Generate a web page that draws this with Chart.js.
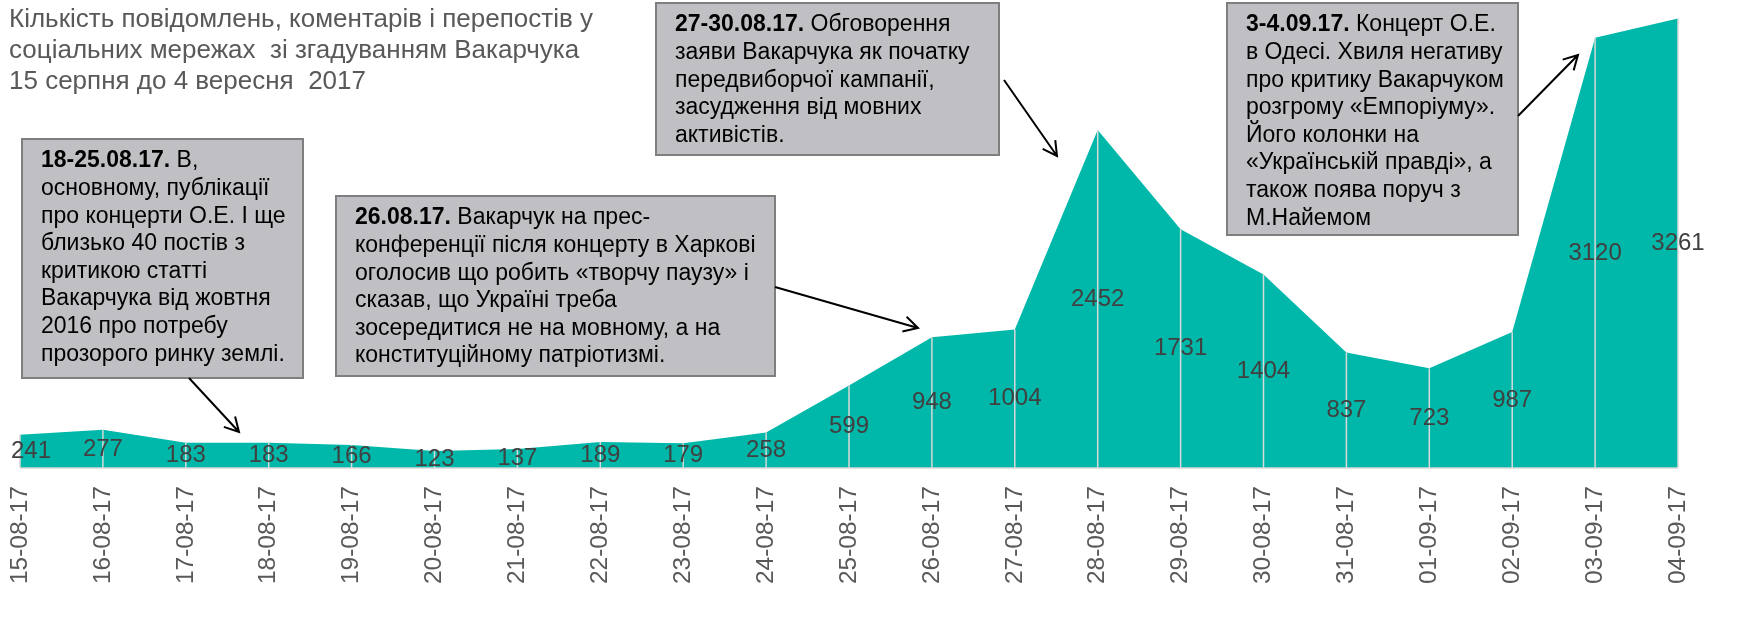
<!DOCTYPE html>
<html>
<head>
<meta charset="utf-8">
<script src="https://cdn.jsdelivr.net/npm/chart.js@4"></script>
<style>
  body { margin: 0; background: #fff; }
  #wrap { width: 1744px; height: 625px; position: relative; }
</style>
</head>
<body>
<div id="wrap"><canvas id="chartMentions"></canvas></div>
<script>
const dates = ["15-08-17", "16-08-17", "17-08-17", "18-08-17", "19-08-17", "20-08-17", "21-08-17",
  "22-08-17", "23-08-17", "24-08-17", "25-08-17", "26-08-17", "27-08-17", "28-08-17", "29-08-17",
  "30-08-17", "31-08-17", "01-09-17", "02-09-17", "03-09-17", "04-09-17"];
const mentions = [241, 277, 183, 183, 166, 123, 137, 189, 179, 258, 599, 948, 1004, 2452, 1731,
  1404, 837, 723, 987, 3120, 3261];

const titleLines = [
  "Кількість повідомлень, коментарів і перепостів у",
  "соціальних мережах  зі згадуванням Вакарчука",
  "15 серпня до 4 вересня  2017"
];

// callout boxes: bold prefix + text lines
const notes = [
  {
    box: [22, 139, 281, 239],
    bold: "18-25.08.17.",
    lines: [" В,", "основному, публікації", "про концерти О.Е. І ще", "близько 40 постів з",
      "критикою статті", "Вакарчука від жовтня", "2016 про потребу", "прозорого ринку землі."],
    arrow: [189, 378, 239, 432]
  },
  {
    box: [336, 196, 439, 180],
    bold: "26.08.17.",
    lines: [" Вакарчук на прес-", "конференції після концерту в Харкові", "оголосив що робить «творчу паузу» і",
      "сказав, що Україні треба", "зосередитися не на мовному, а на", "конституційному патріотизмі."],
    arrow: [775, 287, 918, 328]
  },
  {
    box: [656, 3, 343, 152],
    bold: "27-30.08.17.",
    lines: [" Обговорення", "заяви Вакарчука як початку", "передвиборчої кампанії,",
      "засудження від мовних", "активістів."],
    arrow: [1004, 80, 1057, 156]
  },
  {
    box: [1227, 3, 291, 232],
    bold: "3-4.09.17.",
    lines: [" Концерт О.Е.", "в Одесі. Хвиля негативу", "про критику Вакарчуком", "розгрому «Емпоріуму».",
      "Його колонки на", "«Українській правді», а", "також поява поруч з", "М.Найемом"],
    arrow: [1518, 116, 1578, 55]
  }
];

const FONT = "'Liberation Sans', Arial, sans-serif";

const extras = {
  id: "extras",
  afterDatasetsDraw(chart) {
    const ctx = chart.ctx;
    const x = chart.scales.x, y = chart.scales.y;
    const y0 = y.getPixelForValue(0);
    ctx.save();
    // drop lines
    ctx.strokeStyle = "#d9d9d9";
    ctx.lineWidth = 1.5;
    mentions.forEach((v, i) => {
      const px = x.getPixelForValue(i);
      ctx.beginPath();
      ctx.moveTo(px, y.getPixelForValue(v));
      ctx.lineTo(px, y0);
      ctx.stroke();
    });
    // base line
    ctx.beginPath();
    ctx.moveTo(x.getPixelForValue(0), y0);
    ctx.lineTo(x.getPixelForValue(mentions.length - 1), y0);
    ctx.stroke();
    // value labels in the middle of the area
    ctx.fillStyle = "#404040";
    ctx.font = "24px " + FONT;
    ctx.textAlign = "center";
    ctx.textBaseline = "middle";
    mentions.forEach((v, i) => {
      let px = x.getPixelForValue(i);
      const w = ctx.measureText(String(v)).width;
      if (px - w / 2 < 11) px = 11 + w / 2;
      ctx.fillText(String(v), px, y.getPixelForValue(v / 2));
    });
    ctx.restore();
  },
  afterDraw(chart) {
    const ctx = chart.ctx;
    ctx.save();
    // title
    ctx.fillStyle = "#595959";
    ctx.font = "26px " + FONT;
    ctx.textBaseline = "middle";
    ctx.textAlign = "left";
    titleLines.forEach((t, i) => ctx.fillText(t, 9, 20 + i * 31));

    notes.forEach(n => {
      const [bx, by, bw, bh] = n.box;
      ctx.fillStyle = "#c0c0c4";
      ctx.fillRect(bx, by, bw, bh);
      ctx.strokeStyle = "#7f7f7f";
      ctx.lineWidth = 2;
      ctx.strokeRect(bx, by, bw, bh);

      ctx.fillStyle = "#000";
      ctx.textBaseline = "middle";
      const tx = bx + 19;
      let ty = by + 22;
      ctx.font = "bold 23px " + FONT;
      ctx.fillText(n.bold, tx, ty);
      const bwid = ctx.measureText(n.bold).width;
      ctx.font = "23px " + FONT;
      ctx.fillText(n.lines[0], tx + bwid, ty);
      for (let i = 1; i < n.lines.length; i++) {
        ty += 27.6;
        ctx.fillText(n.lines[i], tx, ty);
      }

      // arrow
      const [x1, y1, x2, y2] = n.arrow;
      const ang = Math.atan2(y2 - y1, x2 - x1);
      ctx.strokeStyle = "#000";
      ctx.lineWidth = 2;
      ctx.beginPath();
      ctx.moveTo(x1, y1);
      ctx.lineTo(x2, y2);
      ctx.moveTo(x2 - 16 * Math.cos(ang - 0.5), y2 - 16 * Math.sin(ang - 0.5));
      ctx.lineTo(x2, y2);
      ctx.lineTo(x2 - 16 * Math.cos(ang + 0.5), y2 - 16 * Math.sin(ang + 0.5));
      ctx.stroke();
    });
    ctx.restore();
  }
};

const chart = new Chart("chartMentions", {
  type: "line",
  data: {
    labels: dates,
    datasets: [
      {
        label: "Згадування",
        data: mentions,
        fill: "origin",
        backgroundColor: "#00b8aa",
        borderWidth: 0,
        pointRadius: 0,
        lineTension: 0,
      },
    ],
  },
  options: {
    responsive: true,
    maintainAspectRatio: false,
    animation: false,
    layout: { padding: { left: 20, right: 66, top: 13, bottom: 0 } },
    plugins: {
      legend: { display: false },
      tooltip: { enabled: false },
    },
    scales: {
      x: {
        offset: false,
        grid: { display: false },
        border: { display: false },
        ticks: {
          color: "#595959",
          font: { family: FONT, size: 24.5 },
          minRotation: 90,
          maxRotation: 90,
          autoSkip: false,
          padding: 10,
        },
        afterFit(scale) {
          scale.height = 157;
        },
      },
      y: {
        display: false,
        min: 0,
        max: 3300,
      },
    },
  },
  plugins: [extras],
});
</script>
</body>
</html>
